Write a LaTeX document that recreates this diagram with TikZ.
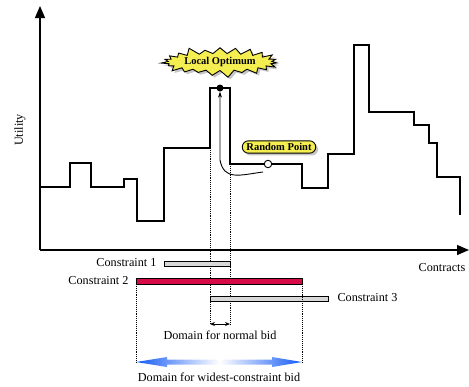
\documentclass[tikz,border=0pt]{standalone}
\usepackage{fontspec}
\setmainfont{Liberation Serif}
\usetikzlibrary{arrows.meta,shapes.symbols,shapes.misc,shadows}
\definecolor{callout}{RGB}{245,238,80}
\definecolor{barred}{RGB}{214,10,70}
\definecolor{bargray}{RGB}{215,215,215}
\definecolor{bidblue}{RGB}{20,90,245}
\tikzset{
  axis/.style={line width=1.3pt,-{Triangle[length=12pt,width=10pt]}},
  utilcurve/.style={line width=1.2pt,line join=miter},
  domline/.style={densely dotted,line width=0.9pt},
  conbar/.style={draw,line width=0.9pt,fill=bargray},
  callbox/.style={draw,line width=0.9pt,fill=callout,font=\bfseries\fontsize{10.5}{12}\selectfont,drop shadow={opacity=0.45}},
}
\begin{document}
\begin{tikzpicture}[x=1pt,y=-1pt,font=\fontsize{12.2}{14}\selectfont]
      \useasboundingbox (0,0) rectangle (469,386); % canvas
      \coordinate (origin) at (40,250); % axes corner
      \coordinate (ytop) at (40,6);
      \coordinate (xend) at (469,250);
      \draw[axis] (origin) -- (ytop); % utility axis
      \draw[axis] (origin) -- (xend); % contracts axis
      \node[rotate=90] (utility) at (20,130) {Utility}; % y label
      \node (contracts) at (442,268) {Contracts}; % x label
      % utility landscape
      \draw[utilcurve] (40,187) -- (70,187) -- (70,163) -- (91,163) -- (91,187) -- (124,187) -- (124,179) -- (137,179) -- (137,221) -- (164,221) -- (164,148) -- (210,148) -- (210,88) -- (230,88) -- (230,164) -- (302,164) -- (302,188) -- (328,188) -- (328,154) -- (354,154) -- (354,45) -- (369,45) -- (369,112) -- (414,112) -- (414,125) -- (429,125) -- (429,143) -- (437,143) -- (437,177) -- (460,177) -- (460,215);
      \node[circle,fill,inner sep=0pt,minimum size=7pt] (opt) at (220,88) {}; % local optimum
      \node[circle,draw,fill=white,line width=0.9pt,inner sep=0pt,minimum size=7.5pt] (rnd) at (268,164) {}; % random point
      \node[callbox,starburst,starburst points=23,starburst point height=8pt,inner sep=1pt,minimum width=96pt,minimum height=33pt] (optlabel) at (220,62) {Local Optimum}; % optimum callout
      \node[callbox,rounded rectangle,inner xsep=3pt,inner ysep=2.5pt] (rndlabel) at (279,147) {Random Point}; % random callout
      \coordinate (tail) at (263,172);
      \draw[line width=0.9pt,-{Stealth[length=6pt,width=4pt]}] (tail) .. controls (240,175) and (224,181) .. (220,160) -- (opt.south); % climb
      % normal bid domain
      \coordinate (nl) at (210,148);
      \coordinate (nr) at (230,164);
      \coordinate (nlb) at (210,324);
      \coordinate (nrb) at (230,324);
      \draw[domline] (nl) -- (nlb);
      \draw[domline] (nr) -- (nrb);
      \draw[line width=0.9pt,{Stealth[length=5pt,width=4pt]}-{Stealth[length=5pt,width=4pt]}] (nlb) -- (nrb); % normal width
      \node (normal) at (220,335) {Domain for normal bid};
      % constraints
      \draw[conbar] (164,261) rectangle (230,266); % constraint 1
      \node[left] (c1) at (160,263) {Constraint 1};
      \draw[conbar,fill=barred] (136,278) rectangle (302,284); % constraint 2
      \node[left] (c2) at (132,281) {Constraint 2};
      \draw[conbar] (210,296) rectangle (328,301); % constraint 3
      \node[right] (c3) at (334,298) {Constraint 3};
      % widest constraint domain
      \coordinate (wl) at (136,284);
      \coordinate (wr) at (302,284);
      \coordinate (wlb) at (136,362);
      \coordinate (wrb) at (302,362);
      \draw[domline] (wl) -- (wlb);
      \draw[domline] (wr) -- (wrb);
      \shade[left color=bidblue,right color=white] (wlb) -- (167,357) -- (167,359.5) -- (219.5,359.5) -- (219.5,364.5) -- (167,364.5) -- (167,367) -- cycle; % left head
      \shade[left color=white,right color=bidblue] (wrb) -- (272,357) -- (272,359.5) -- (219.5,359.5) -- (219.5,364.5) -- (272,364.5) -- (272,367) -- cycle; % right head
      \node (widest) at (219,377) {Domain for widest-constraint bid};
\end{tikzpicture}
\end{document}
